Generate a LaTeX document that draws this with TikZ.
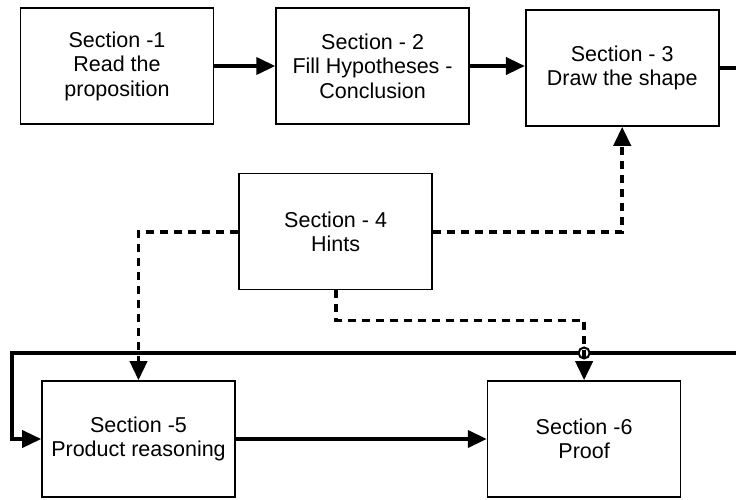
\documentclass[tikz,border=0pt]{standalone}
\usepackage{fontspec}
\setmainfont{Liberation Sans}
\usepackage{tikz}
\usetikzlibrary{positioning, arrows.meta}

\begin{document}
\begin{tikzpicture}[
    x=1pt, y=-1pt,
    section/.style={rectangle, draw, line width=1.6pt, minimum width=193pt, minimum height=116pt, align=center, font=\fontsize{21.5}{24.5}\selectfont},
    flow/.style={line width=3.8pt, -{Triangle[length=19pt, width=17pt]}},
    hint/.style={flow, line width=3.8pt, dash pattern=on 8pt off 6pt}
]
\useasboundingbox (0,0) rectangle (736,499);
\clip (0,0) rectangle (736,499);

% Top row
\node[section] (s1) at (117,66) {Section -1\\Read the\\proposition};
\node[section, right=61pt of s1] (s2) {Section - 2\\Fill Hypotheses -\\Conclusion};
\node[section, right=55pt of s2, yshift=-2pt] (s3) {Section - 3\\Draw the shape};

% Hints box
\node[section, below=48pt of s2, xshift=-37pt] (s4) {Section - 4\\Hints};

% Bottom row
\node[section] (s5) at (138.5,439) {Section -5\\Product reasoning};
\node[section, right=251pt of s5] (s6) {Section -6\\Proof};

\coordinate (loopL) at (12,353);

% Main flow
\draw[flow] (s1) -- (s2);
\draw[flow] (s2.east) -- (s3.west |- s2.east);
\draw[flow] (s3.east) -- ++(60,0) |- (loopL) |- (s5.west);
\draw[flow] (s5) -- (s6);

% Hints
\draw[hint] (s4.west) -| (s5.north);
\draw[hint] (s4.east) -| (s3.south);
\draw[line width=2pt, fill=white] (s6.north |- loopL) circle (5.5pt);
\draw[hint] (s4.south) -- ++(0,30) -| (s6.north);

\end{tikzpicture}
\end{document}
